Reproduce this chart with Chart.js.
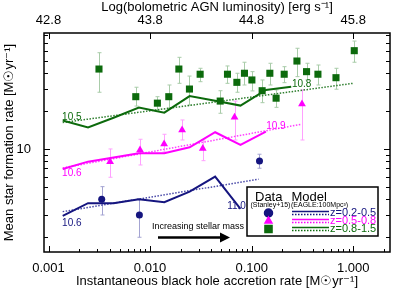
<!DOCTYPE html>
<html>
<head>
<meta charset="utf-8">
<script src="https://cdn.jsdelivr.net/npm/chart.js@4.4.0/dist/chart.umd.min.js"></script>
<style>
  body { margin: 0; background: #fff; }
  #grafico { display: block; }
</style>
</head>
<body>
<canvas id="grafico" width="395" height="291"></canvas>
<script>
// eixo x: taxa de acreção (M_sun/yr), eixo y: SFR (M_sun/yr)
var xMin = 0.000903, xMax = 2.3;
var yMin = 1.52, yMax = 83.3;
var xTicks = [0.001, 0.01, 0.1, 1];
var xTickLabels = ['0.001', '0.010', '0.100', '1.000'];
var topTickLabels = ['42.8', '43.8', '44.8', '45.8'];
var yTicks = [10];
var yTickLabels = ['10'];

// modelo EAGLE (bins de 0.25 dex)
var modelX = [0.00138, 0.00245, 0.00437, 0.00776, 0.0138, 0.0245, 0.0437, 0.0776, 0.138, 0.245];
var modelAzul = [2.94, 3.71, 3.71, 3.99, 3.78, 4.58, 6.03, 3.34];
var modelRosa = [6.94, 7.93, 8.56, 9.25, 9.25, 10.3, 13.57, 10.76, 13.71];
var modelVerde = [16.8, 14.8, 17.7, 21.3, 19.4, 26.3, 24.1, 22.1, 29.4, 31.2];

// ajustes lineares (pontilhados)
var ajusteAzulX = [0.00138, 0.117], ajusteAzulY = [3.18, 5.75];
var ajusteRosaX = [0.00138, 0.308], ajusteRosaY = [7.07, 15.7];
var ajusteVerdeX = [0.00138, 1.0], ajusteVerdeY = [16.2, 33.2];

// dados Stanley+15
var obsAzulX = [0.00334, 0.00785, 0.1194];
var obsAzulY = [3.99, 2.99, 8.03];
var obsAzulLo = [2.99, 1.99, 7.03];
var obsAzulHi = [5.02, 3.99, 9.08];

var obsRosaX = [0.00404, 0.00796, 0.01374, 0.02066, 0.0330, 0.0678, 0.3128];
var obsRosaY = [7.93, 9.82, 10.96, 14.15, 10.09, 17.85, 22.75];
var obsRosaLo = [5.96, 7.46, 9.47, 11.78, 8.07, 11.78, 11.78];
var obsRosaHi = [10.0, 11.94, 13.08, 16.99, 11.78, 24.0, 29.4];

var obsVerdeX = [0.00314, 0.00723, 0.0118, 0.01528, 0.0192, 0.0244, 0.0311, 0.0490, 0.0578, 0.0715, 0.0849,
                 0.1005, 0.1268, 0.151, 0.174, 0.209, 0.279, 0.347, 0.449, 0.676, 1.023];
var obsVerdeY = [43.1, 26.0, 23.1, 26.0, 43.1, 29.9, 39.2, 24.0, 39.2, 33.8, 39.9,
                 35.3, 29.0, 39.9, 25.3, 39.2, 49.9, 41.1, 39.2, 36.8, 60.3];
var obsVerdeLo = [28.2, 21.9, 20.4, 21.1, 33.2, 22.3, 34.2, 19.2, 33.2, 28.2, 32.2,
                  28.9, 23.3, 32.2, 21.4, 33.6, 37.5, 35.3, 32.2, 29.8, 48.8];
var obsVerdeHi = [58.1, 30.9, 26.0, 32.2, 53.4, 37.9, 43.7, 29.0, 45.6, 39.9, 48.8,
                  41.1, 35.3, 47.9, 29.4, 45.0, 63.0, 47.9, 46.4, 43.7, 71.9];

// rótulos de massa estelar nas linhas
var massaTexto = ['10.6', '10.6', '10.5', '11.0', '10.9', '10.8'];
var massaX = [0.00136, 0.00136, 0.00136, 0.0574, 0.139, 0.249];
var massaY = [2.57, 6.41, 17.85, 3.48, 15.03, 32.8];

var azul = '#15157f', rosa = '#ff00ff', verde = '#0c6a0c';
var massaCor = [azul, rosa, verde, azul, rosa, verde];

function pontos(xs, ys) {
  return xs.map(function (x, i) { return { x: x, y: ys[i] }; }).slice(0, ys.length);
}

Chart.defaults.font.family = "'Liberation Sans', Arial, sans-serif";
Chart.defaults.color = '#000';

var fundo = {
  id: 'fundo',
  beforeDraw: function (chart) {
    var c = chart.ctx;
    c.save();
    c.fillStyle = '#fff';
    c.fillRect(0, 0, chart.width, chart.height);
    c.restore();
  }
};

var barrasErro = {
  id: 'barrasErro',
  beforeDatasetsDraw: function (chart) {
    var sx = chart.scales.x, sy = chart.scales.y, c = chart.ctx;
    var series = [
      { x: obsVerdeX, lo: obsVerdeLo, hi: obsVerdeHi, cor: '#a9cca9' },
      { x: obsRosaX, lo: obsRosaLo, hi: obsRosaHi, cor: '#ffa0ff' },
      { x: obsAzulX, lo: obsAzulLo, hi: obsAzulHi, cor: '#a4a4d2' }
    ];
    c.save();
    c.lineWidth = 1;
    series.forEach(function (s) {
      c.strokeStyle = s.cor;
      for (var i = 0; i < s.x.length; i++) {
        var px = Math.round(sx.getPixelForValue(s.x[i])) + 0.5;
        var pl = sy.getPixelForValue(s.lo[i]);
        var ph = sy.getPixelForValue(s.hi[i]);
        c.beginPath();
        c.moveTo(px, pl); c.lineTo(px, ph);
        c.moveTo(px - 2, pl); c.lineTo(px + 2, pl);
        c.moveTo(px - 2, ph); c.lineTo(px + 2, ph);
        c.stroke();
      }
    });
    c.restore();
  }
};

var moldura = {
  id: 'moldura',
  afterDatasetsDraw: function (chart) {
    var a = chart.chartArea, c = chart.ctx, sx = chart.scales.x, sy = chart.scales.y;
    c.save();
    c.strokeStyle = '#000';
    c.lineWidth = 1;
    c.beginPath();
    for (var d = -4; d <= 1; d++) {
      for (var m = 1; m <= 9; m++) {
        var v = m * Math.pow(10, d);
        if (v < sx.min || v > sx.max) continue;
        var px = Math.round(sx.getPixelForValue(v)) + 0.5;
        var len = m === 1 ? 6 : 3;
        c.moveTo(px, a.bottom); c.lineTo(px, a.bottom - len);
        if (m === 1) { c.moveTo(px, a.top); c.lineTo(px, a.top + 6); }
      }
    }
    for (d = 0; d <= 2; d++) {
      for (m = 1; m <= 9; m++) {
        v = m * Math.pow(10, d);
        if (v < sy.min || v > sy.max) continue;
        var py = Math.round(sy.getPixelForValue(v)) + 0.5;
        len = m === 1 ? 6 : 4;
        c.moveTo(a.left, py); c.lineTo(a.left + len, py);
        c.moveTo(a.right, py); c.lineTo(a.right - len, py);
      }
    }
    c.stroke();
    c.lineWidth = 1.5;
    c.strokeRect(a.left, a.top, a.right - a.left, a.bottom - a.top);
    c.restore();
  }
};

var anotacoes = {
  id: 'anotacoes',
  afterDraw: function (chart) {
    var c = chart.ctx, sx = chart.scales.x, sy = chart.scales.y;
    var fam = "'Liberation Sans', Arial, sans-serif";
    c.save();
    // rótulos de massa
    c.font = '10px ' + fam;
    c.textAlign = 'left';
    c.textBaseline = 'middle';
    for (var i = 0; i < massaTexto.length; i++) {
      c.fillStyle = massaCor[i];
      c.fillText(massaTexto[i], sx.getPixelForValue(massaX[i]), sy.getPixelForValue(massaY[i]));
    }
    // seta "Increasing stellar mass"
    c.fillStyle = '#000';
    c.font = '9px ' + fam;
    c.fillText('Increasing stellar mass', 152, 227);
    c.strokeStyle = '#000';
    c.lineWidth = 2.5;
    c.beginPath();
    c.moveTo(158, 237.5); c.lineTo(222, 237.5);
    c.stroke();
    c.beginPath();
    c.moveTo(230, 237.5); c.lineTo(220, 232.5); c.lineTo(220, 242.5); c.closePath();
    c.fill();

    // legenda
    var bx = 247, by = 187, bw = 131, bh = 49;
    c.fillStyle = '#fff';
    c.fillRect(bx, by, bw, bh);
    c.lineWidth = 1.5;
    c.strokeRect(bx, by, bw, bh);
    c.fillStyle = '#000';
    c.font = '13px ' + fam;
    c.fillText('Data', 255, 197);
    c.fillText('Model', 291.5, 197);
    c.font = '7px ' + fam;
    c.fillText('(Stanley+15)', 250.5, 205.5);
    c.fillText('(EAGLE:100Mpc\u00B3)', 291, 205.5);
    var linhas = [
      { y: 213, cor: azul, txt: 'z=0.2-0.5', forma: 'circle' },
      { y: 221, cor: rosa, txt: 'z=0.5-0.8', forma: 'triangle' },
      { y: 229, cor: verde, txt: 'z=0.8-1.5', forma: 'rect' }
    ];
    c.font = '11px ' + fam;
    linhas.forEach(function (l) {
      c.fillStyle = l.cor;
      c.strokeStyle = l.cor;
      Chart.helpers.drawPoint(c, { pointStyle: l.forma, radius: l.forma === 'rect' ? 5 : 4, borderWidth: 1 }, 268.5, l.y);
      c.fill();
      c.lineWidth = 1.5;
      c.setLineDash([]);
      c.beginPath(); c.moveTo(292, l.y - 1.5); c.lineTo(329, l.y - 1.5); c.stroke();
      c.setLineDash([1.5, 1.5]);
      c.beginPath(); c.moveTo(292, l.y + 1.5); c.lineTo(329, l.y + 1.5); c.stroke();
      c.setLineDash([]);
      c.fillText(l.txt, 330, l.y);
    });
    c.restore();
  }
};

var ctx = document.getElementById('grafico').getContext('2d');
var grafico = new Chart(ctx, {
  type: 'scatter',
  data: {
    datasets: [
      { data: pontos(obsAzulX, obsAzulY), pointStyle: 'circle', pointRadius: 3.5, backgroundColor: azul, borderColor: azul, borderWidth: 0 },
      { data: pontos(obsRosaX, obsRosaY), pointStyle: 'triangle', pointRadius: 4.5, backgroundColor: rosa, borderColor: rosa, borderWidth: 0 },
      { data: pontos(obsVerdeX, obsVerdeY), pointStyle: 'rect', pointRadius: 5, backgroundColor: verde, borderColor: verde, borderWidth: 0 },
      { type: 'line', data: pontos(modelX, modelAzul), borderColor: azul, borderWidth: 2, pointRadius: 0, tension: 0 },
      { type: 'line', data: pontos(modelX, modelRosa), borderColor: rosa, borderWidth: 2, pointRadius: 0, tension: 0 },
      { type: 'line', data: pontos(modelX, modelVerde), borderColor: verde, borderWidth: 2, pointRadius: 0, tension: 0 },
      { type: 'line', data: pontos(ajusteAzulX, ajusteAzulY), borderColor: '#4a4aa8', borderWidth: 1.5, borderDash: [1.5, 1.5], pointRadius: 0 },
      { type: 'line', data: pontos(ajusteRosaX, ajusteRosaY), borderColor: '#ff40ff', borderWidth: 1.5, borderDash: [1.5, 1.5], pointRadius: 0 },
      { type: 'line', data: pontos(ajusteVerdeX, ajusteVerdeY), borderColor: '#2f7f2f', borderWidth: 1.5, borderDash: [1.5, 1.5], pointRadius: 0 }
    ]
  },
  options: {
    responsive: false,
    animation: false,
    devicePixelRatio: 1,
    layout: { padding: { left: 0, right: 5, top: 0, bottom: 0 } },
    plugins: { legend: { display: false }, tooltip: { enabled: false } },
    scales: {
      x: {
        type: 'logarithmic', position: 'bottom', min: xMin, max: xMax,
        grid: { display: false }, border: { display: false },
        afterBuildTicks: function (s) { s.ticks = xTicks.map(function (v) { return { value: v }; }); },
        ticks: { autoSkip: false, maxRotation: 0, padding: 1, font: { size: 13 },
                 callback: function (v, i) { return xTickLabels[i]; } },
        title: { display: true, text: 'Instantaneous black hole accretion rate [M\u2609yr\u207B\u00B9]', font: { size: 13 }, padding: { top: 0, bottom: 1.5 } },
        afterFit: function (s) { s.height = 39; }
      },
      x2: {
        type: 'logarithmic', position: 'top', min: xMin, max: xMax,
        grid: { display: false }, border: { display: false },
        afterBuildTicks: function (s) { s.ticks = xTicks.map(function (v) { return { value: v }; }); },
        ticks: { autoSkip: false, maxRotation: 0, padding: -3, font: { size: 13 },
                 callback: function (v, i) { return topTickLabels[i]; } },
        title: { display: true, text: 'Log(bolometric AGN luminosity) [erg s\u207B\u00B9]', font: { size: 13 }, padding: { top: 0, bottom: 0 } },
        afterFit: function (s) { s.height = 33; }
      },
      y: {
        type: 'logarithmic', min: yMin, max: yMax,
        grid: { display: false }, border: { display: false },
        afterBuildTicks: function (s) { s.ticks = yTicks.map(function (v) { return { value: v }; }); },
        ticks: { autoSkip: false, padding: 5, font: { size: 13 },
                 callback: function (v, i) { return yTickLabels[i]; } },
        title: { display: true, text: 'Mean star formation rate [M\u2609yr\u207B\u00B9]', font: { size: 13 }, padding: { top: 2, bottom: 0 } },
        afterFit: function (s) { s.width = 44; }
      }
    }
  },
  plugins: [fundo, barrasErro, moldura, anotacoes]
});
</script>
</body>
</html>
